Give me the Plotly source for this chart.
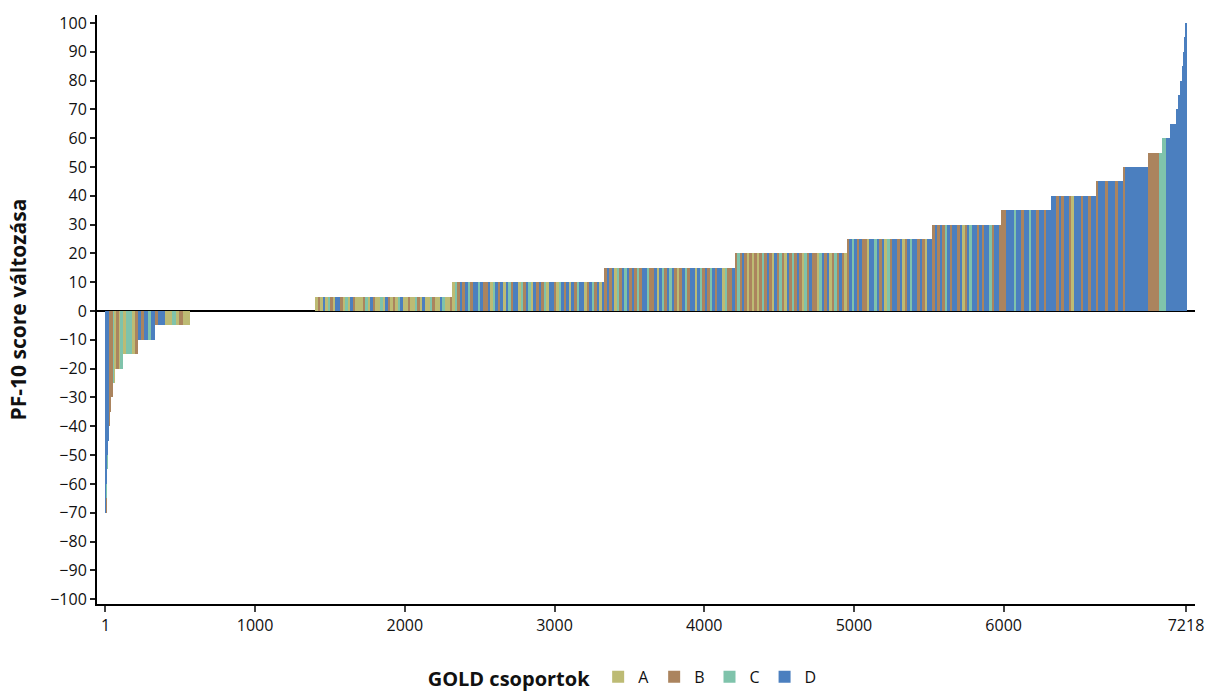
import plotly.graph_objects as go

# ---------------- data ----------------
n_patients = 7218

# PF-10 change level and the rank of the first patient at that level (sorted ascending)
level_values = [-70, -65, -60, -55, -50, -45, -40, -35, -30, -25, -20, -15, -10, -5, 0,
                5, 10, 15, 20, 25, 30, 35, 40, 45, 50, 55, 60, 65, 70, 75, 80, 85, 90, 95, 100]
level_first = [1, 5, 8, 11, 14, 18, 22, 27, 34, 46, 63, 116, 216, 331, 566,
               1404, 2318, 3334, 4203, 4951, 5525, 5986, 6320, 6614, 6795, 6962, 7055, 7109,
               7149, 7169, 7181, 7193, 7203, 7211, 7216]

# GOLD group of consecutive equal-size chunks of patients inside each level (left to right)
level_groups = [
    "DB", "CB", "DA", "BC", "DA", "BD", "AB", "AB", "AAB", "ACA", "ABAC",
    "ACCAB", "DBDCD", "BDDAACABAA", "",
    "ABADACBADDBACADBAAABCADBAACADBABACDAABAACBADAACBAADCAAB",
    "ACBDBDCBDDCDBBDACDBDADCBDDACBDCADBDBCADDBACDBDADBCDDABDCBDAD",
    "BDBDACBDCDBDBCBDDCBBDADCBDCDBABDCBDDADCBDBCDBDDACBBD",
    "BCBDBABABABCBDBADBCBADBCBDBACBDBBACDBDABCBDBA",
    "BDCDBDBBADDCDBDACBDDBDABDCDDBDBADD",
    "BDBDBCDBDDBDABDCDDBDBDDCBDDB",
    "BBDDDCDDBDDCDDBDDBDD",
    "DDBDBDDBADDDBDDBDD",
    "BDDDBDDDBDD",
    "BDDDDDDDDD",
    "BBBBC",
    "CD", "D", "D", "D", "D", "D", "D", "D", "D",
]

group_names = ["A", "B", "C", "D"]
group_colors = ["#bdbb74", "#ab845e", "#7fc3ab", "#4b7fbf"]

x_ticks = [1, 1000, 2000, 3000, 4000, 5000, 6000, 7218]
y_ticks = list(range(-100, 101, 10))

# ---------------- build chunks ----------------
cx = {g: [] for g in group_names}
cw = {g: [] for g in group_names}
cy = {g: [] for g in group_names}
for i, v in enumerate(level_values):
    first = level_first[i]
    last = level_first[i + 1] - 1 if i + 1 < len(level_first) else n_patients
    seq = level_groups[i]
    if not seq or v == 0:
        continue
    n = last - first + 1
    step = n / len(seq)
    for k, g in enumerate(seq):
        a = first - 0.5 + k * step
        cx[g].append(a + step / 2)
        cw[g].append(step)
        cy[g].append(v)

fig = go.Figure()
for g, col in zip(group_names, group_colors):
    fig.add_trace(go.Bar(
        x=cx[g], y=cy[g], width=cw[g], name=g,
        marker=dict(color=col, line=dict(width=0)),
    ))

font_family = "Open Sans, Liberation Sans, sans-serif"

fig.update_layout(
    width=1211, height=691,
    margin=dict(l=97, r=16, t=15, b=87),
    paper_bgcolor="white", plot_bgcolor="white",
    barmode="overlay", bargap=0,
    font=dict(family=font_family, size=16, color="#111"),
    showlegend=True,
    legend=dict(
        orientation="h", xref="container", yref="container",
        x=0.515, xanchor="center", y=0.019, yanchor="middle",
        title=dict(text="<b>GOLD csoportok</b>", font=dict(size=20, color="#111")),
        font=dict(size=16, color="#111"),
        itemwidth=30, traceorder="normal",
    ),
    xaxis=dict(
        range=[-55.7, 7278], tickvals=x_ticks, ticktext=[str(t) for t in x_ticks],
        showgrid=False, zeroline=False, automargin=False,
        showline=True, linecolor="black", linewidth=2,
        ticks="outside", ticklen=6, tickcolor="#444", tickwidth=1.5,
        tickfont=dict(size=16, color="#111"),
    ),
    yaxis=dict(
        range=[-101.7, 102.8], tickvals=y_ticks, automargin=False,
        showgrid=False, zeroline=True, zerolinecolor="black", zerolinewidth=2,
        showline=True, linecolor="black", linewidth=2,
        ticks="outside", ticklen=5, tickcolor="#222", tickwidth=1.5,
        tickfont=dict(size=16, color="#111"),
        title=dict(text="<b>PF-10 score változása</b>", font=dict(size=21, color="#111"), standoff=18),
    ),
)

fig.write_html("out.html")
